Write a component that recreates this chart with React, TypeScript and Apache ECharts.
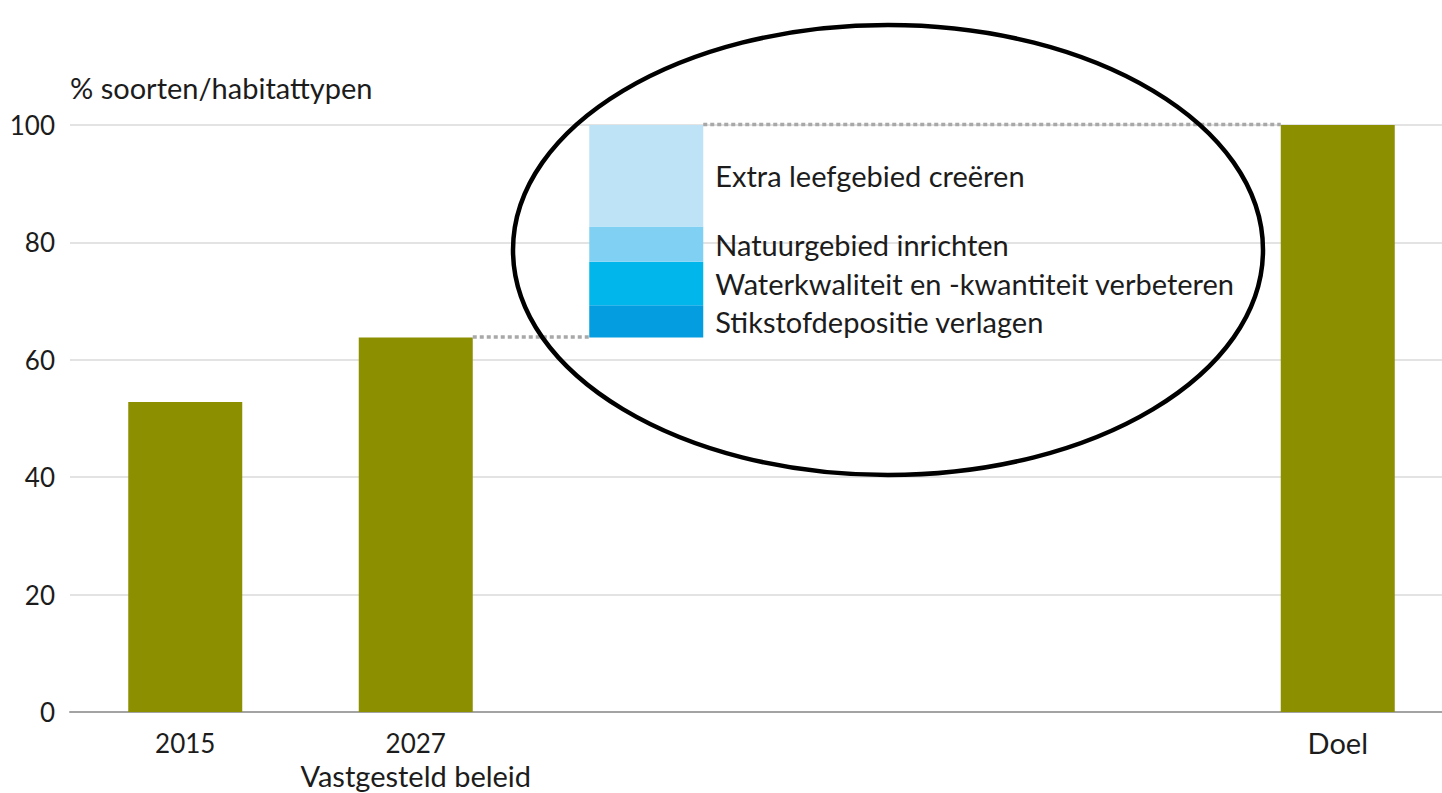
import React, { useEffect, useRef } from "react";
import * as echarts from "echarts";

const categories = ["2015", "2027\nVastgesteld beleid", "", "", "", "Doel"];
const observed = [52.8, 63.8, "-", "-", "-", 100];
const baseline = ["-", "-", 63.8, "-", "-", "-"];
const segmentNames = [
  "Stikstofdepositie verlagen",
  "Waterkwaliteit en -kwantiteit verbeteren",
  "Natuurgebied inrichten",
  "Extra leefgebied creëren",
];
const segmentValues = [5.5, 7.4, 6.0, 17.3];
const segmentColors = ["#049ee0", "#00b6eb", "#80d0f3", "#bee3f7"];
const connectors = [
  [1, 2, 63.8],
  [2, 5, 100],
];
const yTicks = { min: 0, max: 100, interval: 20 };
const yTitle = "% soorten/habitattypen";

const FONT = "Lato";
const TEXT = "#1c1c1c";
const BAR_W = 114;
const FS = 29;
const FS_NUM = 26;

export default function App() {
  const ref = useRef<HTMLDivElement>(null);
  useEffect(() => {
    if (!ref.current) return;
    const chart = echarts.init(ref.current, undefined, { renderer: "svg" });
    const segSeries = segmentNames.map((name, i) => ({
      name,
      type: "bar",
      stack: "total",
      barWidth: BAR_W,
      data: categories.map((_, ci) => (ci === 2 ? segmentValues[i] : "-")),
      itemStyle: { color: segmentColors[i] },
      label: {
        show: true,
        position: "right",
        distance: 12,
        formatter: name,
        fontFamily: FONT,
        fontSize: FS,
        color: TEXT,
      },
    }));
    chart.setOption({
      animation: false,
      textStyle: { fontFamily: FONT },
      grid: {
        left: 70,
        right: -11,
        top: 125,
        bottom: 81,
        containLabel: false,
        outerBoundsMode: "none",
      },
      xAxis: {
        type: "category",
        data: categories,
        axisTick: { show: false },
        axisLine: { lineStyle: { color: "#a3a3a3", width: 2 } },
        axisLabel: {
          interval: 0,
          margin: 14,
          fontFamily: FONT,
          fontSize: FS,
          lineHeight: 33,
          color: TEXT,
          formatter: (v: string) =>
            v
              .split("\n")
              .map((line) => (/^\d+$/.test(line) ? `{y|${line}}` : `{t|${line}}`))
              .join("\n"),
          rich: {
            y: { fontFamily: FONT, fontSize: FS_NUM, lineHeight: 33, color: TEXT },
            t: { fontFamily: FONT, fontSize: FS, lineHeight: 33, color: TEXT },
          },
        },
      },
      yAxis: {
        type: "value",
        min: yTicks.min,
        max: yTicks.max,
        interval: yTicks.interval,
        name: yTitle,
        nameLocation: "end",
        nameGap: 38,
        nameTextStyle: {
          align: "left",
          verticalAlign: "middle",
          fontFamily: FONT,
          fontSize: FS,
          color: TEXT,
        },
        axisLine: { show: false },
        axisTick: { show: false },
        axisLabel: { margin: 15, fontFamily: FONT, fontSize: FS_NUM, color: TEXT },
        splitLine: { lineStyle: { color: "#dadada", width: 1.5 } },
      },
      series: [
        {
          name: "Natuurdoelen",
          type: "bar",
          stack: "total",
          barWidth: BAR_W,
          data: observed,
          itemStyle: { color: "#8c8f00" },
        },
        {
          name: "basis",
          type: "bar",
          stack: "total",
          barWidth: BAR_W,
          data: baseline,
          itemStyle: { color: "rgba(0,0,0,0)" },
        },
        ...segSeries,
        {
          name: "verbinding",
          type: "custom",
          coordinateSystem: "cartesian2d",
          encode: { x: [0, 1], y: 2 },
          data: connectors,
          z: 3,
          renderItem: (params: any, api: any) => {
            const from = api.value(0);
            const to = api.value(1);
            const v = api.value(2);
            const p1 = api.coord([from, v]);
            const p2 = api.coord([to, v]);
            const half = BAR_W / 2;
            return {
              type: "line",
              shape: { x1: p1[0] + half, y1: p1[1] - 0.5, x2: p2[0] - half, y2: p2[1] - 0.5 },
              style: { stroke: "#a8a8a8", lineWidth: 3.5, lineDash: [4, 3] },
            };
          },
        },
      ],
      graphic: [
        {
          type: "ellipse",
          shape: { cx: 888, cy: 250, rx: 375, ry: 225 },
          style: { fill: "none", stroke: "#000", lineWidth: 4.5 },
          z: 100,
        },
      ],
    });
    return () => chart.dispose();
  }, []);
  return (
    <div
      ref={ref}
      style={{ position: "absolute", left: 0, top: 0, width: 1442, height: 793 }}
    />
  );
}
